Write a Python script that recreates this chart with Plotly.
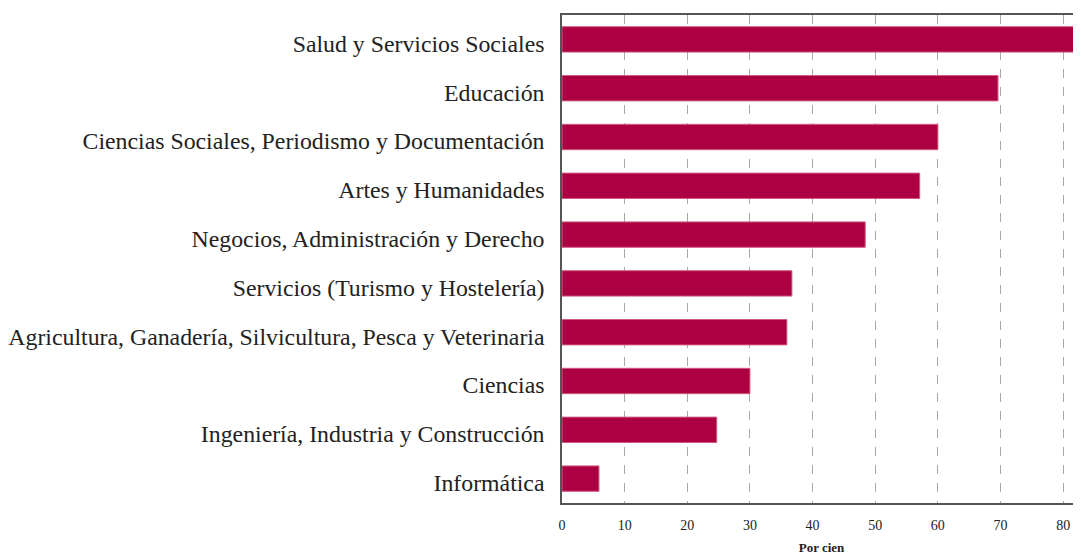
import plotly.graph_objects as go

categories = [
    "Salud y Servicios Sociales",
    "Educación",
    "Ciencias Sociales, Periodismo y Documentación",
    "Artes y Humanidades",
    "Negocios, Administración y Derecho",
    "Servicios (Turismo y Hostelería)",
    "Agricultura, Ganadería, Silvicultura, Pesca y Veterinaria",
    "Ciencias",
    "Ingeniería, Industria y Construcción",
    "Informática",
]
values = [84.0, 69.6, 60.0, 57.1, 48.4, 36.7, 35.9, 30.0, 24.7, 5.9]
x_ticks = [0, 10, 20, 30, 40, 50, 60, 70, 80]

serif = "Liberation Serif, Times New Roman, serif"

fig = go.Figure(
    go.Bar(
        x=values,
        y=categories,
        orientation="h",
        marker=dict(color="#ad0042", line=dict(color="#d05a83", width=1)),
        width=0.52,
    )
)

fig.update_layout(
    width=1073,
    height=547,
    margin=dict(l=552, r=0, t=7, b=52),
    paper_bgcolor="white",
    plot_bgcolor="white",
    showlegend=False,
    font=dict(family=serif, color="#222"),
)

fig.update_xaxes(
    range=[0, 82.85],
    tickvals=x_ticks,
    ticktext=[str(t) for t in x_ticks],
    tickfont=dict(size=14, family=serif, color="#222"),
    showgrid=True,
    gridcolor="#a8a8a8",
    griddash="dash",
    gridwidth=1,
    zeroline=False,
    showline=True,
    linecolor="#555",
    linewidth=1.5,
    mirror=True,
    ticks="",
    ticklabelstandoff=8,
    title=dict(text="<b>Por cien</b>", font=dict(size=13, family=serif, color="#222"), standoff=11),
)

fig.update_yaxes(
    categoryorder="array",
    categoryarray=categories[::-1],
    tickfont=dict(size=23.8, family=serif, color="#222"),
    showgrid=False,
    zeroline=False,
    showline=True,
    linecolor="#555",
    linewidth=1.5,
    ticks="",
    ticklabelstandoff=11,
    ticklabelshift=4,
    range=[-0.5, 9.5],
)

fig.write_html("out.html")
